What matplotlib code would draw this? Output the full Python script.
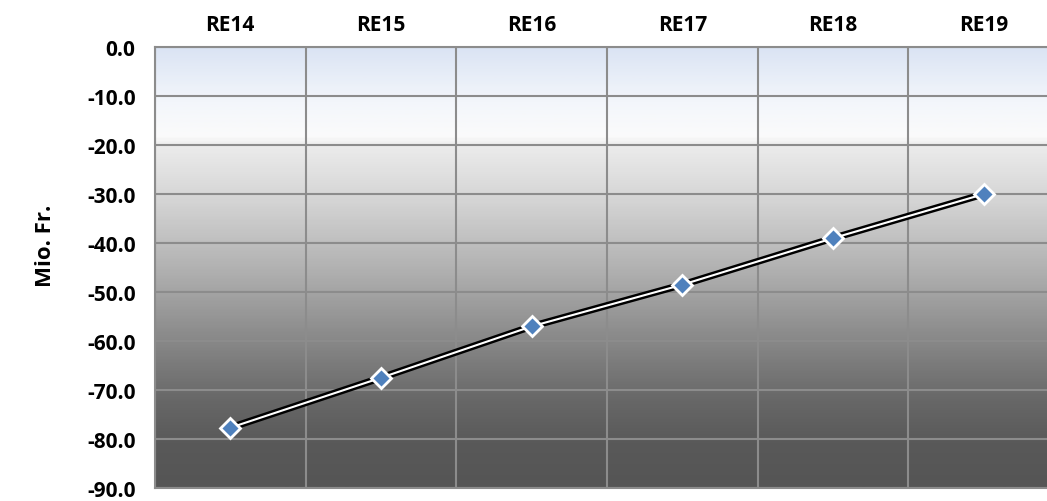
import matplotlib
matplotlib.use("Agg")
import matplotlib.pyplot as plt
import numpy as np
from matplotlib.colors import LinearSegmentedColormap

plt.rcParams['font.family'] = ['Open Sans', 'DejaVu Sans']

categories = ['RE14', 'RE15', 'RE16', 'RE17', 'RE18', 'RE19']
values = [-77.7, -67.5, -57.0, -48.5, -39.0, -30.0]
y_ticks = [0, -10, -20, -30, -40, -50, -60, -70, -80, -90]

fig = plt.figure(figsize=(10.47, 5.02), dpi=100)
ax = fig.add_axes([0.148, 0.026, 0.8635, 0.878])

# background gradient (top -> bottom)
bg = LinearSegmentedColormap.from_list('bg', [
    (0.0, '#dbe4f4'), (0.12, '#f3f6fb'), (0.2, '#fbfbfb'),
    (0.22, '#ececec'), (0.35, '#d4d4d4'), (0.5, '#b2b2b2'),
    (0.65, '#8c8c8c'), (0.8, '#686868'), (0.9, '#595959'), (1.0, '#555555')])
grad = np.linspace(0, 1, 300).reshape(-1, 1)
ax.imshow(grad, aspect='auto', cmap=bg, extent=[-0.5, 5.5, -90, 0], zorder=0)

x = np.arange(len(categories))
ax.plot(x, values, color='black', lw=5, zorder=3, solid_capstyle='butt')
ax.plot(x, values, color='white', lw=1.5, zorder=4, solid_capstyle='butt')
ax.plot(x, values, ls='none', marker='D', ms=10, mfc='#4f81bd', mec='white', mew=2, zorder=5)

ax.set_xlim(-0.5, 5.5)
ax.set_ylim(-90, 0)
ax.set_yticks(y_ticks)
ax.set_yticklabels([f'{v:.1f}' for v in y_ticks], fontsize=15, fontweight='bold')
ax.set_xticks(x)
ax.set_xticklabels(categories, fontsize=15, fontweight='bold')
ax.xaxis.tick_top()
ax.set_xticks(np.arange(-0.5, 5.6, 1), minor=True)
ax.tick_params(axis='both', which='both', length=0)
ax.tick_params(axis='x', pad=9)
ax.tick_params(axis='y', pad=14)
ax.grid(True, which='minor', axis='x', color='#8c8c8c', lw=1.5, zorder=1)
ax.grid(True, which='major', axis='y', color='#8c8c8c', lw=1.5, zorder=1)
for s in ax.spines.values():
    s.set_color('#8c8c8c')
    s.set_linewidth(1.5)

fig.text(0.043, 0.51, 'Mio. Fr.', rotation=90, ha='center', va='center',
         fontsize=16, fontweight='bold')

fig.savefig('out.png', dpi=100)
